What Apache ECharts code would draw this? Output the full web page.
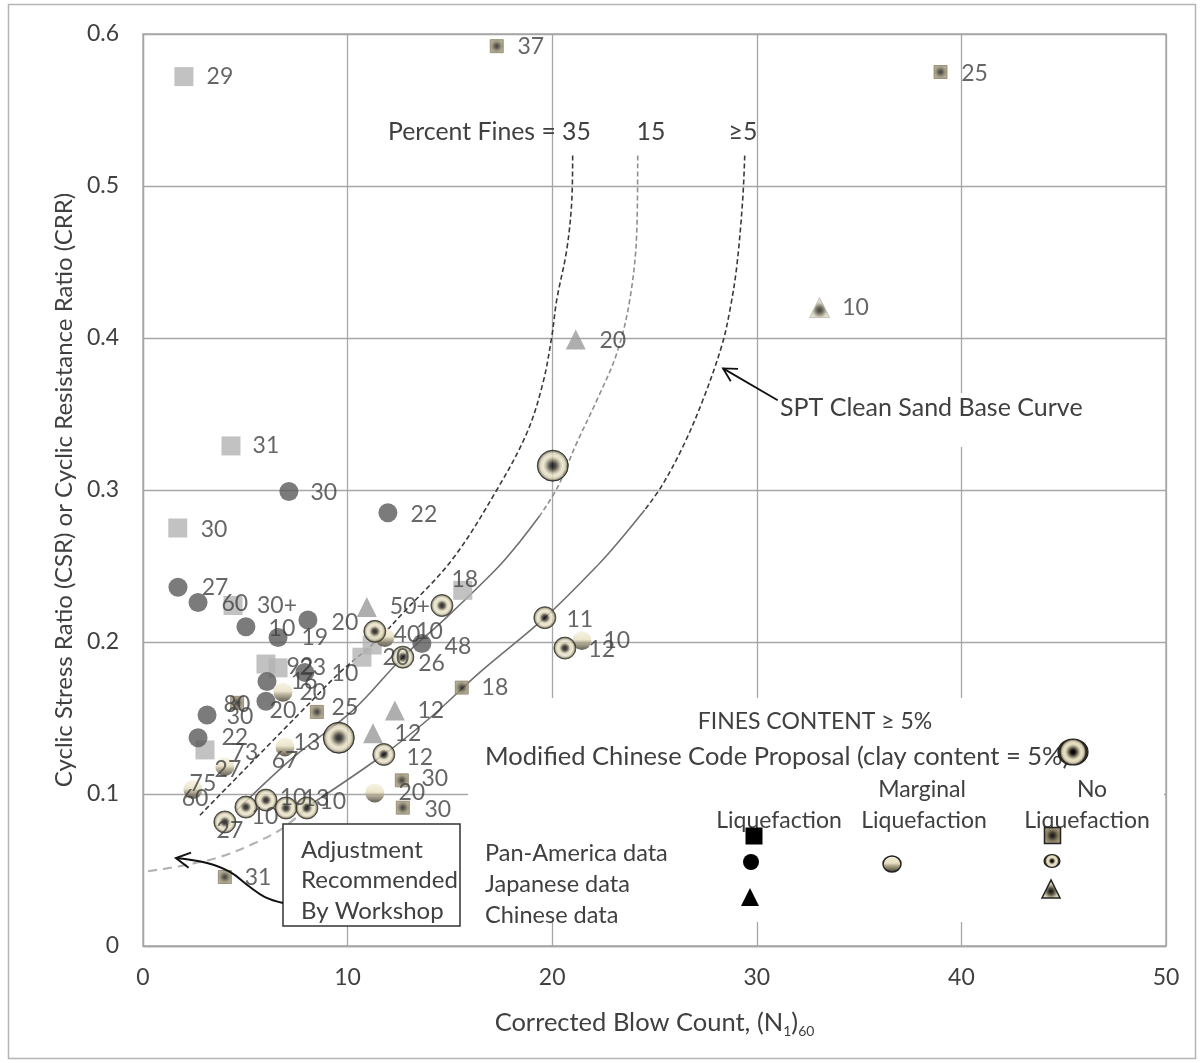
<!DOCTYPE html>
<html>
<head>
<meta charset="utf-8">
<script src="https://cdn.jsdelivr.net/npm/echarts@6/dist/echarts.min.js"></script>
<style>
html,body{margin:0;padding:0;background:#ffffff;}
#chart{width:1201px;height:1063px;}
</style>
</head>
<body>
<div id="chart"></div>
<script>
// ---------- axes ----------
const xTicks = [0, 10, 20, 30, 40, 50];
const yTicks = [0, 0.1, 0.2, 0.3, 0.4, 0.5, 0.6];

// ---------- data points [(N1)60, CSR] ----------
const panAmericaLiq = [[2.0,0.572],[4.3,0.329],[1.7,0.275],[4.4,0.224],[15.63,0.234],[6.01,0.1855],[6.6,0.183],[11.2,0.198],[10.7,0.190],[3.03,0.129]];
const japaneseLiq = [[7.13,0.299],[11.97,0.285],[1.71,0.236],[2.69,0.226],[5.03,0.210],[8.06,0.2145],[6.6,0.203],[13.63,0.199],[6.06,0.174],[6.01,0.161],[7.91,0.180],[3.13,0.152],[2.69,0.137]];
const chineseLiq = [[21.15,0.399],[10.94,0.223],[12.31,0.155],[11.24,0.140]];
const marginalLiq = [[11.82,0.203],[6.84,0.167],[6.94,0.131],[4.0,0.118],[2.44,0.103],[11.33,0.1007],[21.45,0.201]];
const noLiqCircle = [[11.33,0.207],[14.61,0.224],[19.64,0.216],[20.62,0.196],[12.7,0.190],[11.77,0.126],[4.0,0.0816],[5.03,0.0914],[6.01,0.096],[6.99,0.0908],[8.01,0.0908]];
const modChineseCode = [[20.03,0.316],[9.57,0.137]];
const noLiqSquare = [[17.29,0.592],[38.98,0.575],[8.5,0.154],[15.58,0.170],[12.65,0.109],[12.7,0.091],[4.0,0.0454],[4.6,0.160]];
const noLiqTriangle = [[33.07,0.420]];

// ---------- point annotations (fines content, %) [x, y, text] ----------
const pointLabels = [
  [3.76,0.572,'29'],[18.95,0.592,'37'],[40.64,0.574,'25'],[34.83,0.420,'10'],[22.96,0.398,'20'],
  [6.01,0.329,'31'],[8.84,0.298,'30'],[13.73,0.284,'22'],[3.47,0.274,'30'],
  [3.52,0.2355,'27'],[4.49,0.225,'60'],[6.55,0.224,'30+'],[6.79,0.209,'10'],[9.87,0.213,'20'],[8.4,0.203,'19'],
  [13.04,0.223,'50+'],[15.73,0.241,'18'],[12.9,0.205,'40'],[14.0,0.207,'10'],[15.39,0.197,'48'],
  [12.36,0.190,'20'],[14.1,0.186,'26'],[21.35,0.2145,'11'],[22.42,0.195,'12'],[23.16,0.2007,'10'],
  [7.67,0.184,'92'],[8.3,0.183,'23'],[9.87,0.179,'10'],[7.87,0.174,'16'],[8.3,0.167,'20'],
  [4.59,0.159,'80'],[6.84,0.155,'20'],[9.87,0.157,'25'],[17.2,0.170,'18'],[4.74,0.151,'30'],
  [14.07,0.155,'12'],[12.95,0.140,'12'],[4.49,0.137,'22'],[4.98,0.127,'73'],[8.01,0.134,'13'],
  [6.94,0.122,'67'],[4.15,0.116,'27'],[2.93,0.107,'75'],[2.54,0.097,'60'],[13.53,0.124,'12'],
  [14.26,0.110,'30'],[13.14,0.1007,'20'],[14.41,0.0895,'30'],[4.25,0.0757,'27'],[5.96,0.0849,'10'],
  [7.33,0.0974,'10'],[8.45,0.0967,'13'],[9.28,0.0947,'10'],[5.62,0.0447,'31']
];

// ---------- CRR curves ----------
const curveFines35 = [[21.0,0.520],[20.96,0.491],[20.71,0.458],[20.22,0.425],[19.98,0.401],[19.54,0.370],[18.76,0.3375],[17.29,0.300],[15.1,0.254],[12.7,0.219],[11.43,0.201],[9.62,0.180],[8.3,0.162],[2.78,0.086]];
const curveFines15Upper = [[24.18,0.520],[24.13,0.469],[23.79,0.425],[23.16,0.390],[22.18,0.359],[21.2,0.331],[20.27,0.302],[19.39,0.283]];
const curveFines15Lower = [[19.39,0.283],[18.42,0.266],[17.34,0.249],[14.85,0.2164],[12.7,0.190],[10.26,0.155],[7.33,0.124],[4.59,0.0895]];
const curveFines5Upper = [[29.41,0.520],[29.31,0.491],[29.02,0.447],[28.68,0.418],[28.29,0.395],[27.36,0.359],[26.38,0.3283],[25.35,0.3026],[24.52,0.2868]];
const curveFines5Lower = [[24.52,0.2868],[23.4,0.2684],[22.33,0.252],[19.64,0.216],[16.46,0.180],[14.02,0.150],[11.77,0.126],[8.01,0.0914]];
const workshopCurve = [[8.01,0.0908],[6.84,0.0776],[5.47,0.0678],[3.76,0.0586],[1.81,0.0526],[0,0.0487]];

// ---------- annotation arrows (data coords) ----------
const sptArrow = [[31.02,0.359],[28.35,0.380]];
const workshopArrow = [[6.84,0.0283],[5.96,0.0322],[5.23,0.0388],[4.25,0.0487],[3.13,0.0546],[1.61,0.0579]];

const FONT = 'Lato';
const TXT = '#404040';

const chart = echarts.init(document.getElementById('chart'), null, {renderer:'canvas'});

function lineSeries(data, color, width, type) {
  return {type:'line', data:data, showSymbol:false, symbol:'none', smooth:0.35, z:2, silent:true,
    lineStyle:{color:color, width:width, type:type}};
}
const ringColor = {type:'radial', x:0.5, y:0.5, r:0.5, colorStops:[
  {offset:0,color:'#000'},{offset:0.18,color:'#1a1a1a'},{offset:0.32,color:'#777059'},
  {offset:0.45,color:'#d8d1b4'},{offset:0.65,color:'#ebe5cc'},{offset:0.8,color:'#b9b194'},
  {offset:0.9,color:'#444034'},{offset:1,color:'#3a372c'}]};
const bigColor = {type:'radial', x:0.5, y:0.5, r:0.5, colorStops:[
  {offset:0,color:'#000'},{offset:0.15,color:'#111'},{offset:0.3,color:'#5d5848'},
  {offset:0.45,color:'#b6ae92'},{offset:0.6,color:'#e9e3c9'},{offset:0.78,color:'#d5ceb2'},
  {offset:0.88,color:'#8b846c'},{offset:0.94,color:'#2c2a22'},{offset:1,color:'#2c2a22'}]};
const creamColor = {type:'linear', x:0, y:0, x2:0, y2:1, colorStops:[
  {offset:0,color:'#f6f1df'},{offset:0.45,color:'#e7dec0'},{offset:0.62,color:'#a89f83'},{offset:1,color:'#3b372b'}]};
const sqColor = {type:'radial', x:0.5, y:0.5, r:0.5, colorStops:[
  {offset:0,color:'#111'},{offset:0.3,color:'#3d3a2e'},{offset:0.65,color:'#857c60'},{offset:1,color:'#a49b7f'}]};
const triColor = {type:'radial', x:0.5, y:0.62, r:0.5, colorStops:[
  {offset:0,color:'#111'},{offset:0.3,color:'#4d493b'},{offset:0.7,color:'#cfc8ac'},{offset:1,color:'#e6e0c6'}]};

function scatter(data, symbol, size, itemStyle, z) {
  return {type:'scatter', data:data, symbol:symbol, symbolSize:size, itemStyle:itemStyle, z:z||3, silent:true};
}

const option = {
  animation:false,
  backgroundColor:'#ffffff',
  textStyle:{fontFamily:FONT},
  grid:{left:143, right:35, top:34, bottom:117, show:true, borderColor:'#a6a6a6', borderWidth:1.3},
  xAxis:{type:'value', min:xTicks[0], max:xTicks[xTicks.length-1], interval:10,
    axisLine:{show:true, onZero:false, lineStyle:{color:'#a6a6a6', width:1.3}},
    axisTick:{show:false},
    splitLine:{show:true, lineStyle:{color:'#a6a6a6', width:1.3}},
    axisLabel:{color:TXT, fontSize:23, fontFamily:FONT, margin:20},
    name:'Corrected Blow Count, (N{s|1}){s|60}', nameLocation:'middle', nameGap:62,
    nameTextStyle:{color:TXT, fontSize:25.5, fontFamily:FONT, lineHeight:30,
      rich:{s:{fontSize:14, fontFamily:FONT, color:TXT, verticalAlign:'bottom', lineHeight:22}}}},
  yAxis:{type:'value', min:yTicks[0], max:yTicks[yTicks.length-1], interval:0.1,
    axisLine:{show:true, lineStyle:{color:'#a6a6a6', width:1.3}},
    axisTick:{show:false},
    splitLine:{show:true, lineStyle:{color:'#a6a6a6', width:1.3}},
    axisLabel:{color:TXT, fontSize:23, fontFamily:FONT, margin:24, formatter:v => v === 0 ? '0' : v.toFixed(1)},
    name:'Cyclic Stress Ratio (CSR) or Cyclic Resistance Ratio (CRR)', nameLocation:'middle', nameGap:64,
    nameTextStyle:{color:TXT, fontSize:24, fontFamily:FONT}},
  series:[
    lineSeries(curveFines35, '#3a3a3a', 1.6, [5,3]),
    lineSeries(curveFines15Upper, '#8f8f8f', 1.6, [5,3]),
    lineSeries(curveFines15Lower, '#707070', 1.6, 'solid'),
    lineSeries(curveFines5Upper, '#3a3a3a', 1.6, [5,3]),
    lineSeries(curveFines5Lower, '#707070', 1.6, 'solid'),
    lineSeries(workshopCurve, '#b3b3b3', 2.2, [9,6]),
    scatter(panAmericaLiq, 'rect', 19, {color:'#b3b3b3'}),
    scatter(japaneseLiq, 'circle', 19, {color:'#5a5a5a'}),
    scatter(chineseLiq, 'triangle', 20, {color:'#9a9a9a'}),
    scatter(marginalLiq, 'circle', 19, {color:creamColor}),
    scatter(noLiqCircle, 'circle', 22, {color:ringColor, borderColor:'#3a372c', borderWidth:1}),
    scatter(modChineseCode, 'circle', 31, {color:bigColor, borderColor:'#222', borderWidth:1}),
    scatter(noLiqSquare, 'rect', 13, {color:sqColor, borderColor:'#8a8166', borderWidth:1}),
    scatter(noLiqTriangle, 'triangle', 20, {color:triColor, borderColor:'#b5b5b5', borderWidth:1}),
    {type:'scatter', data:pointLabels, symbolSize:1, itemStyle:{color:'rgba(0,0,0,0)'}, z:5, silent:true,
      label:{show:true, position:'inside', formatter:p => p.data[2], color:TXT, fontSize:23, fontFamily:FONT}}
  ]
};
chart.setOption(option);

// ---------- annotations / legend (graphic) ----------
const px = d => chart.convertToPixel({xAxisIndex:0, yAxisIndex:0}, d);
function arrowHead(tip, from, len) {
  const a = Math.atan2(from[1]-tip[1], from[0]-tip[0]);
  const s = 0.5;
  return [[tip[0]+len*Math.cos(a+s), tip[1]+len*Math.sin(a+s)], tip, [tip[0]+len*Math.cos(a-s), tip[1]+len*Math.sin(a-s)]];
}
function txt(x, y, text, align, size, z) {
  return {type:'text', x:x, y:y, z:z||6, silent:true,
    style:{text:text, fill:TXT, font:(size||24)+'px '+FONT, textAlign:align||'left', textVerticalAlign:'middle'}};
}
const sptPts = sptArrow.map(px);
const wsPts = workshopArrow.map(px);
const gfx = [
  // outer frame
  {type:'rect', z:0, silent:true, shape:{x:8.5, y:4.5, width:1187, height:1054}, style:{fill:null, stroke:'#b5b5b5', lineWidth:1.5}},
  // white backdrop for legend / SPT label
  {type:'rect', z:1, silent:true, shape:{x:468, y:698, width:696, height:224}, style:{fill:'#fff'}},
  {type:'rect', z:1, silent:true, shape:{x:772, y:393, width:318, height:54}, style:{fill:'#fff'}},
  // curve labels
  txt(388, 132, 'Percent Fines = 35', 'left', 24.8),
  txt(651, 132, '15', 'center', 24.8),
  txt(743, 132, '≥5', 'center', 24.8),
  txt(780, 408, 'SPT Clean Sand Base Curve', 'left', 25),
  // SPT arrow
  {type:'polyline', z:6, silent:true, shape:{points:sptPts}, style:{stroke:'#111', lineWidth:1.8, fill:null}},
  {type:'polyline', z:6, silent:true, shape:{points:arrowHead(sptPts[1], sptPts[0], 15)}, style:{stroke:'#111', lineWidth:1.8, fill:null}},
  // workshop box
  {type:'rect', z:5, silent:true, shape:{x:283, y:824, width:177, height:102}, style:{fill:'#fff', stroke:'#333', lineWidth:1.5}},
  txt(301, 850, 'Adjustment', 'left', 24),
  txt(301, 880, 'Recommended', 'left', 24),
  txt(301, 911, 'By Workshop', 'left', 24),
  {type:'polyline', z:6, silent:true, shape:{points:wsPts, smooth:0.4}, style:{stroke:'#111', lineWidth:2, fill:null}},
  {type:'polyline', z:6, silent:true, shape:{points:arrowHead(wsPts[wsPts.length-1], wsPts[wsPts.length-2], 16)}, style:{stroke:'#111', lineWidth:2, fill:null}},
  // legend text
  txt(815, 722, 'FINES CONTENT ≥ 5%', 'center', 23),
  txt(485, 757, 'Modified Chinese Code Proposal (clay content = 5%)', 'left', 25.5),
  txt(922, 790, 'Marginal', 'center', 23),
  txt(1092, 790, 'No', 'center', 23),
  txt(779, 821, 'Liquefaction', 'center', 23),
  txt(924, 821, 'Liquefaction', 'center', 23),
  txt(1087, 821, 'Liquefaction', 'center', 23),
  txt(485, 853, 'Pan-America data', 'left', 23.5),
  txt(485, 884, 'Japanese data', 'left', 23.5),
  txt(485, 915, 'Chinese data', 'left', 23.5),
  // legend symbols
  {type:'ellipse', z:7, silent:true, shape:{cx:1073, cy:752, rx:15, ry:13}, style:{fill:bigColor, stroke:'#222', lineWidth:1.2}},
  {type:'rect', z:7, silent:true, shape:{x:745.5, y:827.5, width:17, height:17}, style:{fill:'#000'}},
  {type:'circle', z:7, silent:true, shape:{cx:751, cy:862, r:8}, style:{fill:'#000'}},
  {type:'polygon', z:7, silent:true, shape:{points:[[741,906],[759,906],[750,888]]}, style:{fill:'#000'}},
  {type:'ellipse', z:7, silent:true, shape:{cx:892, cy:864, rx:9, ry:8}, style:{fill:creamColor, stroke:'#222', lineWidth:1.5}},
  {type:'rect', z:7, silent:true, shape:{x:1044.5, y:827.5, width:16, height:16}, style:{fill:sqColor, stroke:'#222', lineWidth:1.5}},
  {type:'ellipse', z:7, silent:true, shape:{cx:1052, cy:861, rx:8, ry:6.5}, style:{fill:ringColor, stroke:'#222', lineWidth:1.2}},
  {type:'polygon', z:7, silent:true, shape:{points:[[1042,898],[1060,898],[1051,880]]}, style:{fill:triColor, stroke:'#222', lineWidth:1.5}}
];
chart.setOption({graphic:gfx});
</script>
</body>
</html>
